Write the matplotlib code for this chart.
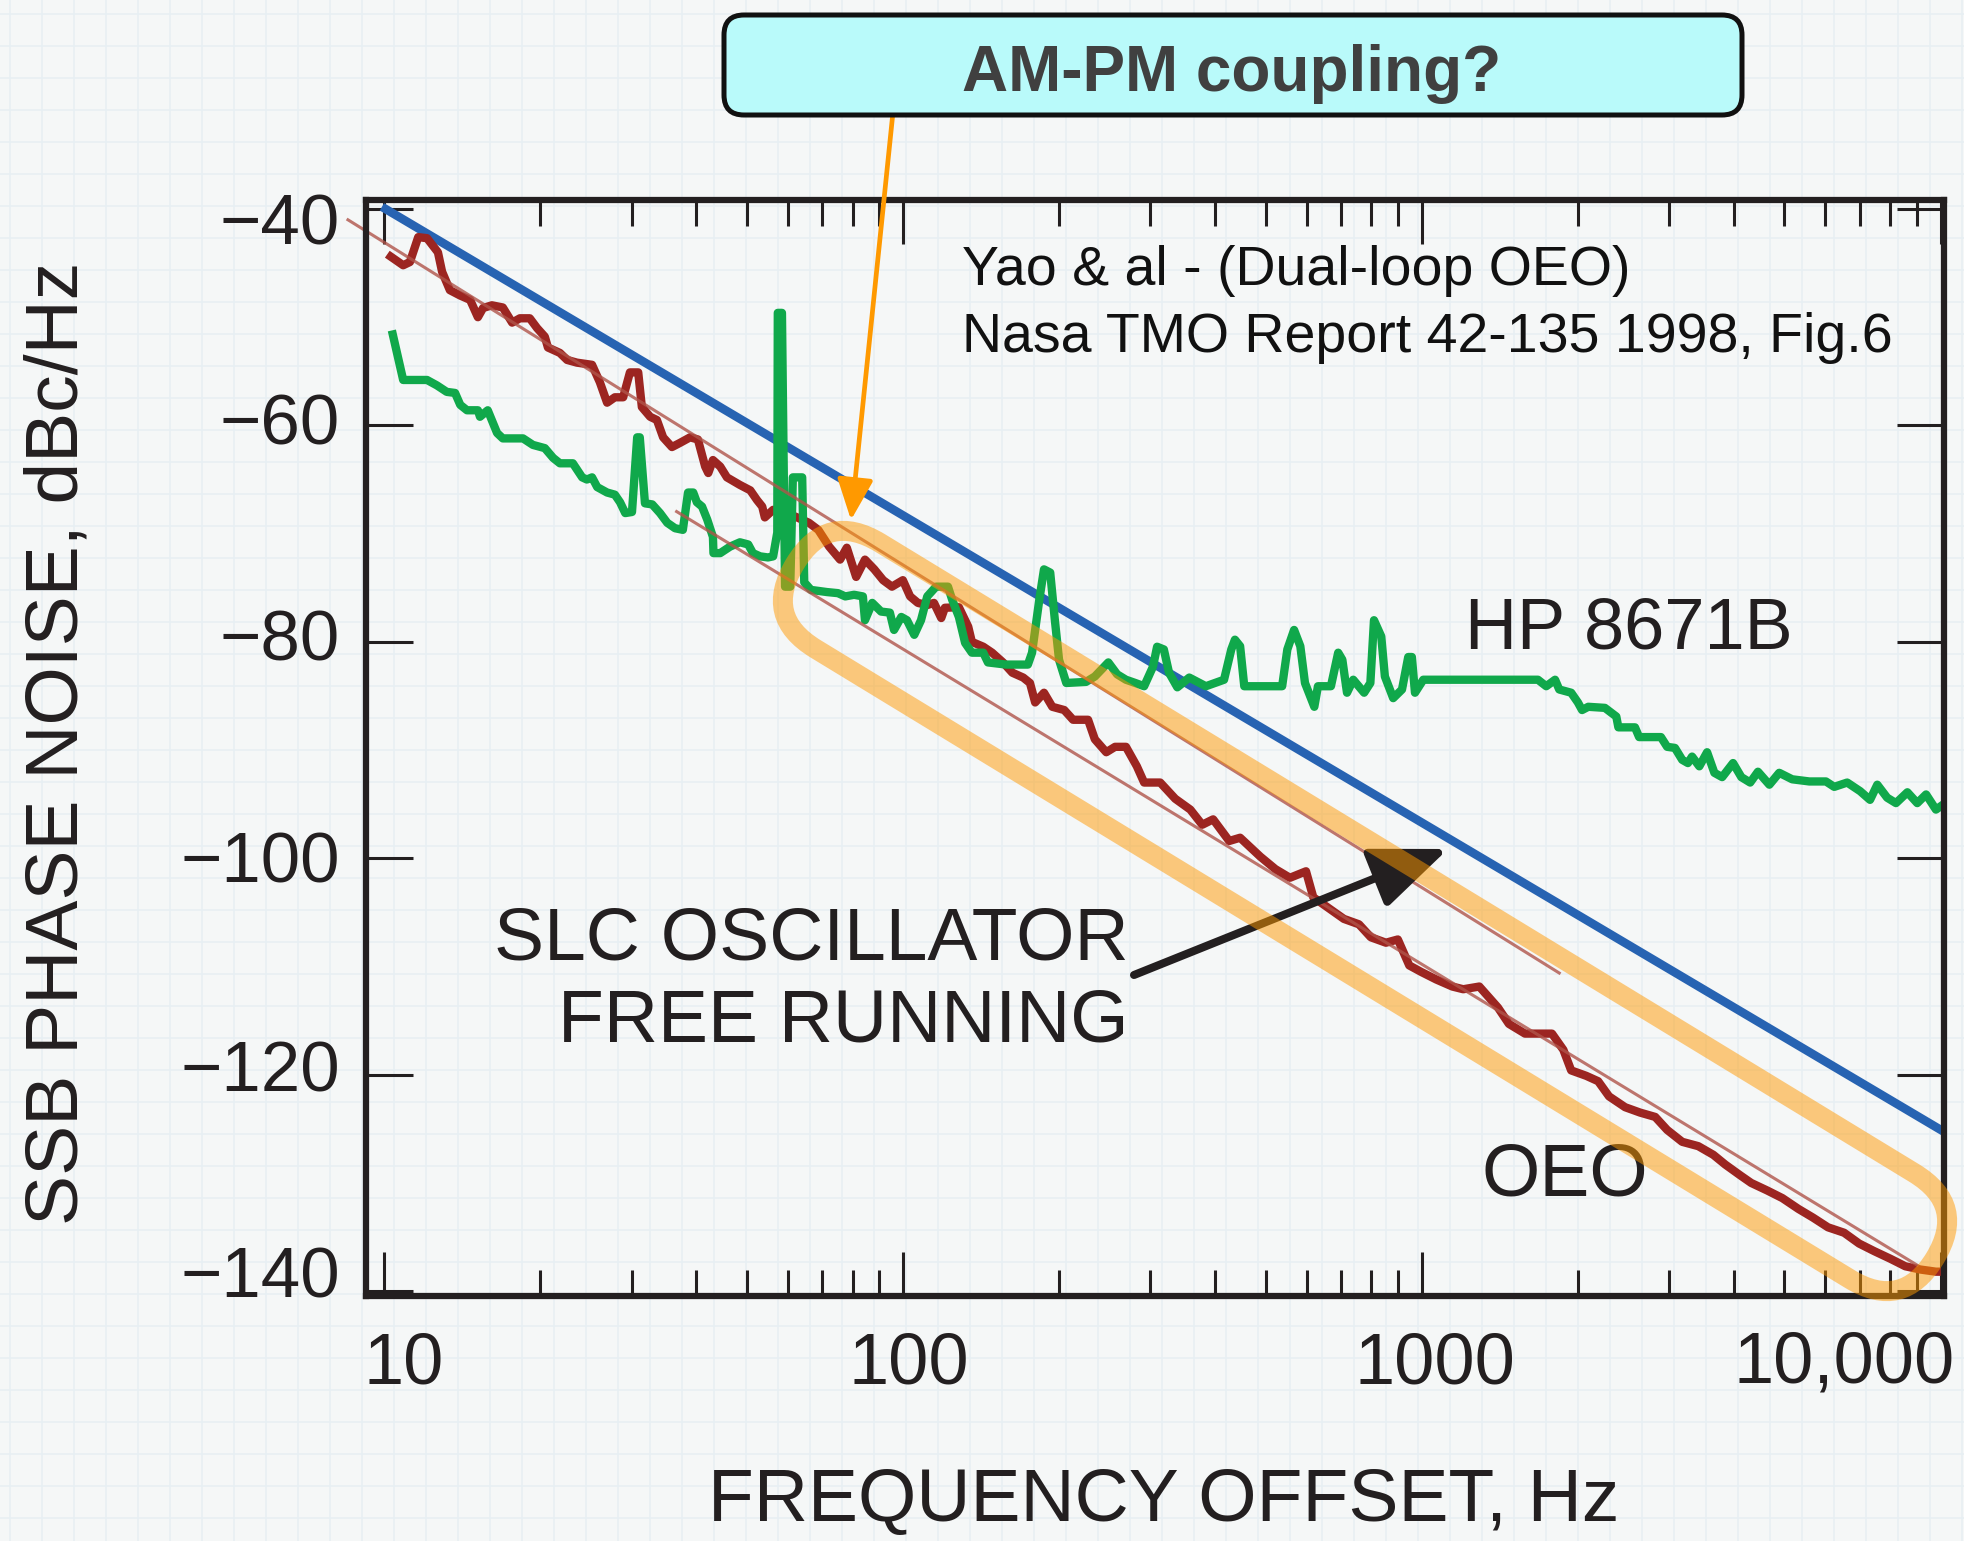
import numpy as np
import matplotlib
matplotlib.use('Agg')
import matplotlib.pyplot as plt
from matplotlib.patches import FancyBboxPatch, FancyArrowPatch
from matplotlib.ticker import LogLocator, NullLocator, FixedLocator, NullFormatter
import matplotlib.transforms as mtransforms

plt.rcParams['font.family'] = ['Liberation Sans', 'DejaVu Sans']

# ---------------- data (frequency offset given as log10(Hz), noise in dBc/Hz) ----------------
oeo_points = [
    (1.013, -44.4), (1.037, -45.2), (1.050, -44.9), (1.066, -42.6), (1.083, -42.7), (1.104, -44.0),
    (1.112, -45.8), (1.127, -47.5), (1.147, -48.0), (1.166, -48.4), (1.181, -50.0), (1.191, -49.15),
    (1.208, -48.9), (1.229, -49.1), (1.247, -50.5), (1.262, -50.1), (1.281, -50.1), (1.295, -51.0),
    (1.310, -51.8), (1.316, -52.8), (1.339, -53.3), (1.353, -53.95), (1.372, -54.2), (1.401, -54.4),
    (1.416, -56.0), (1.430, -57.9), (1.445, -57.4), (1.461, -57.4), (1.474, -55.1), (1.490, -55.1),
    (1.497, -58.3), (1.513, -59.2), (1.526, -59.5), (1.538, -61.1), (1.555, -62.0), (1.571, -61.6),
    (1.590, -61.1), (1.605, -61.3), (1.619, -63.8), (1.625, -64.4), (1.634, -63.2), (1.648, -63.8),
    (1.661, -64.8), (1.686, -65.5), (1.706, -66.0), (1.719, -66.9), (1.729, -67.5), (1.734, -68.5),
    (1.750, -67.8), (1.759, -67.8), (1.794, -68.45), (1.819, -69.0), (1.837, -69.65), (1.858, -71.2),
    (1.879, -72.4), (1.892, -71.3), (1.910, -74.0), (1.927, -72.4), (1.945, -73.3), (1.962, -74.3),
    (1.979, -74.9), (2.000, -74.3), (2.014, -75.8), (2.029, -76.4), (2.047, -76.6), (2.060, -76.4),
    (2.074, -77.8), (2.081, -76.85), (2.108, -76.8), (2.126, -78.6), (2.133, -80.0), (2.155, -80.45),
    (2.172, -81.0), (2.193, -81.9), (2.211, -82.85), (2.232, -83.3), (2.245, -83.8), (2.255, -85.6),
    (2.272, -84.7), (2.288, -86.0), (2.311, -86.3), (2.328, -87.2), (2.357, -87.2), (2.370, -89.0),
    (2.392, -90.2), (2.409, -89.7), (2.430, -89.7), (2.451, -91.5), (2.465, -93.0), (2.496, -93.0),
    (2.525, -94.5), (2.554, -95.5), (2.577, -96.9), (2.598, -96.4), (2.629, -98.4), (2.650, -98.1),
    (2.689, -99.85), (2.718, -101.0), (2.746, -101.8), (2.777, -101.2), (2.791, -103.6), (2.822, -104.65),
    (2.850, -105.6), (2.879, -106.1), (2.902, -107.3), (2.931, -107.8), (2.954, -107.5), (2.976, -109.9),
    (2.999, -110.5), (3.028, -111.2), (3.059, -111.85), (3.080, -112.1), (3.111, -111.85), (3.147, -113.8),
    (3.168, -115.3), (3.199, -116.2), (3.251, -116.2), (3.273, -117.7), (3.288, -119.6), (3.317, -120.1),
    (3.340, -120.6), (3.361, -122.0), (3.392, -123.0), (3.421, -123.5), (3.450, -123.9), (3.473, -125.1),
    (3.502, -126.2), (3.533, -126.6), (3.562, -127.4), (3.585, -128.3), (3.614, -129.3), (3.635, -130.0),
    (3.666, -130.7), (3.695, -131.4), (3.726, -132.4), (3.754, -133.2), (3.783, -134.1), (3.814, -134.6),
    (3.843, -135.6), (3.872, -136.3), (3.903, -137.0), (3.932, -137.7), (3.961, -138.0), (3.991, -138.2),
    (4.006, -138.2),
]

hp8671b_points = [
    (1.017, -51.6), (1.037, -55.8), (1.050, -55.8), (1.083, -55.8), (1.102, -56.3), (1.121, -56.9),
    (1.137, -57.0), (1.147, -58.1), (1.160, -58.6), (1.181, -58.6), (1.185, -59.2), (1.200, -58.6),
    (1.218, -60.7), (1.229, -61.2), (1.268, -61.2), (1.287, -61.8), (1.310, -62.1), (1.326, -63.0),
    (1.339, -63.5), (1.364, -63.5), (1.382, -64.8), (1.391, -65.0), (1.401, -64.8), (1.411, -65.7),
    (1.430, -66.2), (1.445, -66.4), (1.455, -67.1), (1.465, -68.1), (1.478, -68.0), (1.488, -61.1),
    (1.493, -61.1), (1.503, -67.2), (1.517, -67.3), (1.532, -68.1), (1.546, -69.0), (1.561, -69.5),
    (1.576, -69.65), (1.586, -66.2), (1.596, -66.2), (1.603, -67.1), (1.613, -67.5), (1.623, -68.7),
    (1.634, -70.3), (1.635, -71.8), (1.648, -71.8), (1.667, -71.2), (1.686, -70.8), (1.702, -71.0),
    (1.711, -71.8), (1.725, -72.1), (1.740, -72.2), (1.750, -72.1), (1.758, -69.9), (1.759, -49.6),
    (1.767, -49.6), (1.773, -74.9), (1.783, -74.9), (1.788, -64.8), (1.806, -64.8), (1.810, -74.5),
    (1.823, -75.2), (1.854, -75.4), (1.875, -75.5), (1.889, -75.8), (1.906, -75.65), (1.923, -75.8),
    (1.927, -78.0), (1.941, -76.4), (1.958, -77.2), (1.975, -77.3), (1.983, -78.9), (1.997, -77.7),
    (2.008, -78.0), (2.022, -79.35), (2.035, -78.0), (2.047, -75.8), (2.064, -74.9), (2.087, -74.9),
    (2.095, -76.1), (2.108, -77.7), (2.120, -80.1), (2.133, -81.0), (2.155, -81.0), (2.164, -81.9),
    (2.199, -82.1), (2.241, -82.1), (2.249, -81.0), (2.263, -76.1), (2.272, -73.3), (2.284, -73.6),
    (2.293, -78.0), (2.301, -81.65), (2.315, -83.8), (2.353, -83.7), (2.370, -83.2), (2.396, -81.9),
    (2.413, -83.0), (2.430, -83.5), (2.448, -83.8), (2.465, -84.1), (2.482, -82.3), (2.490, -80.45),
    (2.503, -80.7), (2.513, -82.85), (2.529, -84.2), (2.552, -83.3), (2.584, -84.1), (2.619, -83.5),
    (2.633, -80.7), (2.640, -79.8), (2.650, -80.4), (2.658, -84.1), (2.731, -84.1), (2.741, -80.7),
    (2.754, -78.9), (2.766, -80.4), (2.775, -83.8), (2.793, -86.0), (2.800, -84.1), (2.825, -84.1),
    (2.839, -81.0), (2.847, -81.65), (2.856, -84.7), (2.868, -83.5), (2.889, -84.7), (2.901, -83.8),
    (2.908, -78.0), (2.922, -79.5), (2.929, -83.2), (2.945, -85.2), (2.962, -84.4), (2.974, -81.4),
    (2.981, -81.4), (2.987, -84.7), (3.003, -83.5), (3.028, -83.5), (3.224, -83.5), (3.240, -84.1),
    (3.257, -83.5), (3.265, -84.4), (3.288, -84.7), (3.301, -85.6), (3.309, -86.3), (3.321, -86.0),
    (3.353, -86.1), (3.375, -86.9), (3.379, -87.9), (3.411, -87.9), (3.419, -88.8), (3.461, -88.8),
    (3.473, -89.7), (3.488, -89.8), (3.502, -90.9), (3.513, -91.2), (3.521, -90.6), (3.535, -91.5),
    (3.550, -90.2), (3.564, -92.1), (3.579, -92.5), (3.600, -91.2), (3.616, -92.5), (3.633, -93.0),
    (3.648, -92.0), (3.670, -93.2), (3.689, -92.1), (3.714, -92.7), (3.747, -92.9), (3.779, -92.9),
    (3.795, -93.4), (3.820, -93.0), (3.845, -93.8), (3.864, -94.6), (3.878, -93.2), (3.897, -94.4),
    (3.914, -94.9), (3.936, -93.9), (3.955, -94.9), (3.972, -94.1), (3.991, -95.5), (4.006, -95.0),
]

# straight reference lines (log10 Hz, dBc/Hz) at their two ends
slc_line_logf = [0.996, 4.011]
slc_line_db = [-39.8, -125.4]
fit_upper_logf = [0.9306, 3.265]
fit_upper_db = [-41.0, -110.6]
fit_lower_logf = [1.564, 3.955]
fit_lower_db = [-67.96, -137.6]

x_ticks = [10, 100, 1000, 10000]
x_tick_labels = ['10', '100', '1000', '10,000']
y_ticks = [-40, -60, -80, -100, -120, -140]
y_tick_labels = ['\u221240', '\u221260', '\u221280', '\u2212100', '\u2212120', '\u2212140']

# ---------------- figure ----------------
W, H = 1965, 1541
INK = '#231f20'
fig = plt.figure(figsize=(W / 100, H / 100), dpi=100)
fig.patch.set_facecolor('#f5f7f7')

# faint graph-paper background
bg = fig.add_axes([0, 0, 1, 1], zorder=0)
bg.set_xlim(0, W)
bg.set_ylim(H, 0)
bg.axis('off')
for gx in np.arange(10, W, 32):
    bg.axvline(gx, color='#e7eff3', lw=1.1, zorder=0)
for gy in np.arange(14, H, 32):
    bg.axhline(gy, color='#e7eff3', lw=1.1, zorder=0)

ax = fig.add_axes([366.5 / W, 1 - 1295.5 / H, (1944 - 366.5) / W, (1295.5 - 200) / H], zorder=2)
ax.set_facecolor('none')
ax.set_xscale('log')
ax.set_xlim(9.254, 10152)
ax.set_ylim(-140.4, -39.17)

oeo_logf, oeo_db = zip(*oeo_points)
hp_logf, hp_db = zip(*hp8671b_points)
ax.plot(10 ** np.array(slc_line_logf), slc_line_db, color='#2763b2', lw=6.2, zorder=2,
        solid_capstyle='butt')
ax.plot(10 ** np.array(oeo_logf), oeo_db, color='#9c2521', lw=6.0, zorder=3,
        solid_joinstyle='round')
ax.plot(10 ** np.array(hp_logf), hp_db, color='#10a84b', lw=6.0, zorder=4,
        solid_joinstyle='round')
ax.plot(10 ** np.array(fit_upper_logf), fit_upper_db, color='#b0544a', lw=2.2, alpha=0.8,
        zorder=5, clip_on=False)
ax.plot(10 ** np.array(fit_lower_logf), fit_lower_db, color='#b0544a', lw=2.2, alpha=0.8,
        zorder=5)

for s in ax.spines.values():
    s.set_linewidth(4.5)
    s.set_color(INK)
    s.set_zorder(6)

ax.xaxis.set_major_locator(FixedLocator(x_ticks))
ax.xaxis.set_minor_locator(LogLocator(base=10, subs=np.arange(2, 10), numticks=30))
ax.xaxis.set_major_formatter(NullFormatter())
ax.xaxis.set_minor_formatter(NullFormatter())
ax.yaxis.set_major_locator(FixedLocator(y_ticks))
ax.yaxis.set_minor_locator(NullLocator())
ax.yaxis.set_major_formatter(NullFormatter())
ax.tick_params(axis='x', which='major', direction='in', length=32, width=2.2, color=INK,
               top=True, bottom=True, labelbottom=False)
ax.tick_params(axis='x', which='minor', direction='in', length=19, width=2.2, color=INK,
               top=True, bottom=True)
ax.tick_params(axis='y', which='major', direction='in', length=34, width=2.2, color=INK,
               left=True, right=True, labelleft=False)

# tick labels (placed on the axes' scales, with small typographic offsets)
x_label_dx = [20, 6, 13, -96]
for val, lab, dx in zip(x_ticks, x_tick_labels, x_label_dx):
    tr = mtransforms.offset_copy(ax.get_xaxis_transform(), fig=fig, x=dx, y=-87.5, units='dots')
    ax.text(val, 0, lab, transform=tr, ha='center', va='baseline', fontsize=52, color=INK,
            clip_on=False)
y_label_dy = [36, 19, 19, 24, 17, 6]
for val, lab, dy in zip(y_ticks, y_tick_labels, y_label_dy):
    tr = mtransforms.offset_copy(ax.get_yaxis_transform(), fig=fig, x=-26.5, y=-dy, units='dots')
    ax.text(0, val, lab, transform=tr, ha='right', va='baseline', fontsize=51, color=INK,
            clip_on=False)

# ---------------- annotation layer (pixel coordinates) ----------------
ov = fig.add_axes([0, 0, 1, 1], zorder=3)
ov.set_xlim(0, W)
ov.set_ylim(H, 0)
ov.axis('off')

ov.text(78, 743, 'SSB PHASE NOISE, dBc/Hz', rotation=90, rotation_mode='anchor',
        ha='center', va='baseline', fontsize=54, color=INK)
ov.text(1164, 1521, 'FREQUENCY OFFSET, Hz', ha='center', va='baseline', fontsize=54, color=INK)
ov.text(962, 285, 'Yao & al - (Dual-loop OEO)', ha='left', va='baseline', fontsize=40, color='#111111')
ov.text(962, 352, 'Nasa TMO Report 42-135 1998, Fig.6', ha='left', va='baseline', fontsize=40,
        color='#111111')
ov.text(1465, 648, 'HP 8671B', ha='left', va='baseline', fontsize=52, color=INK, zorder=3)
ov.text(1129, 959, 'SLC OSCILLATOR', ha='right', va='baseline', fontsize=54, color=INK, zorder=3)
ov.text(1129, 1042, 'FREE RUNNING', ha='right', va='baseline', fontsize=54, color=INK, zorder=3)
ov.text(1482, 1195, 'OEO', ha='left', va='baseline', fontsize=54, color=INK, zorder=3)

arrow_k = FancyArrowPatch((1134, 975), (1448, 849),
                          arrowstyle='-|>,head_length=47,head_width=19', mutation_scale=1,
                          lw=5.8, color=INK, shrinkA=0, shrinkB=0, zorder=4)
ov.add_patch(arrow_k)

# highlighted band (capsule outline)
c1 = np.array([848.0, 596.0])
c2 = np.array([1882.0, 1226.0])
r = 62.0
L = np.hypot(*(c2 - c1))
ang = np.degrees(np.arctan2(c2[1] - c1[1], c2[0] - c1[0]))
cap = FancyBboxPatch((-r, -r), L + 2 * r, 2 * r, boxstyle=f'round,pad=0,rounding_size={r}',
                     fc='none', ec='#ff9900', alpha=0.5, lw=14.4, zorder=5,
                     transform=mtransforms.Affine2D().rotate_deg(ang).translate(*c1) + ov.transData)
ov.add_patch(cap)

arrow_o = FancyArrowPatch((893, 112), (851, 520),
                          arrowstyle='-|>,head_length=25,head_width=11', mutation_scale=1,
                          lw=3.4, color='#ff9900', shrinkA=0, shrinkB=0, zorder=6)
ov.add_patch(arrow_o)

box = FancyBboxPatch((724, 15), 1018, 100, boxstyle='round,pad=0,rounding_size=20',
                     fc='#b9fafa', ec='#111111', lw=3.6, zorder=7)
ov.add_patch(box)
ov.text(1232, 91, 'AM-PM coupling?', ha='center', va='baseline', fontsize=46,
        fontweight='bold', color='#404040', zorder=8)

fig.savefig('out.png', dpi=100, facecolor=fig.get_facecolor())
